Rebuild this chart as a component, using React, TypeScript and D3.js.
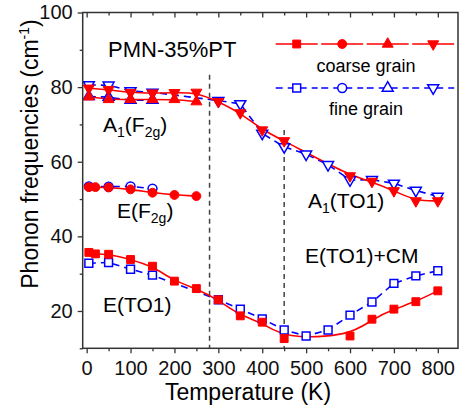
import React, { useEffect, useRef } from "react";
import * as d3 from "d3";

// E(TO1) / E(TO1)+CM  (squares)
const tSqCoarse = [5, 20, 50, 100, 150, 200, 250, 300, 350, 400, 450, 600, 650, 700, 750, 800];
const fSqCoarse = [35.7, 35.3, 35.2, 33.8, 32.0, 28.0, 26.0, 23.0, 18.7, 17.0, 12.6, 13.3, 17.8, 20.5, 22.5, 25.4];
const tSqFine = [5, 50, 100, 150, 300, 350, 400, 450, 500, 550, 600, 650, 700, 750, 800];
const fSqFine = [32.8, 33.0, 31.2, 29.6, 23.0, 20.5, 17.9, 14.9, 13.3, 14.9, 18.9, 22.4, 27.4, 29.4, 30.8];

// E(F2g)  (circles)
const tCiCoarse = [5, 20, 50, 100, 150, 200, 250];
const fCiCoarse = [53.2, 53.2, 53.1, 52.6, 51.7, 51.1, 50.8];
const tCiFine = [5, 50, 100, 150];
const fCiFine = [53.4, 53.3, 53.4, 52.8];

// A1(F2g)  (up triangles)
const tUpCoarse = [5, 50, 100, 150, 200, 250];
const fUpCoarse = [77.4, 76.7, 76.7, 76.7, 76.7, 76.1];
const tUpFine = [5, 50, 100, 150];
const fUpFine = [77.5, 77.3, 76.5, 76.5];

// A1(TO1)  (down triangles)
const tDnCoarse = [5, 50, 100, 150, 200, 250, 300, 350, 400, 450, 600, 650, 700, 750, 800];
const fDnCoarse = [79.7, 79.3, 78.5, 78.4, 78.5, 78.6, 76.1, 73.1, 68.5, 65.6, 56.2, 54.7, 52.2, 49.5, 49.5];
const tDnFine = [5, 50, 100, 150, 300, 350, 400, 450, 500, 550, 600, 650, 700, 750, 800];
const fDnFine = [80.6, 80.5, 79.0, 78.6, 76.4, 75.5, 67.6, 64.0, 62.0, 59.2, 55.1, 55.2, 54.2, 52.3, 50.7];

// dashed markers: [temperature, top frequency]
const guideT = [280, 450];
const guideTop = [83.3, 68.5];

const xMajor = [0, 100, 200, 300, 400, 500, 600, 700, 800];
const xMinor = [50, 150, 250, 350, 450, 550, 650, 750];
const yMajor = [20, 40, 60, 80, 100];
const yMinor = [10, 30, 50, 70, 90];

const RED = "#ff0000";
const BLUE = "#0000ff";
const AXIS = "#333";
const FONT = "'Liberation Sans', Arial, sans-serif";

type Shape = "square" | "circle" | "up" | "down";

export default function App() {
  const ref = useRef<SVGSVGElement>(null);

  useEffect(() => {
    const w = 463;
    const h = 409;
    const left = 82.7;
    const right = 458;
    const top = 12.5;
    const bottom = 348.3;

    const x = d3.scaleLinear().domain([-9, 846]).range([left, right]);
    const y = d3.scaleLinear().domain([10, 100]).range([bottom, top]);

    const svg = d3.select(ref.current).attr("viewBox", `0 0 ${w} ${h}`);
    svg.selectAll("*").remove();

    // symbols
    const symPath = (shape: Shape) => {
      if (shape === "square") return d3.symbol(d3.symbolSquare, 62)()!;
      if (shape === "circle") return d3.symbol(d3.symbolCircle, 62)()!;
      return d3.symbol(d3.symbolTriangle, 52)()!;
    };
    const addMarker = (
      g: d3.Selection<SVGGElement, unknown, null, undefined>,
      cx: number,
      cy: number,
      shape: Shape,
      color: string,
      filled: boolean
    ) => {
      g.append("path")
        .attr("d", symPath(shape))
        .attr(
          "transform",
          `translate(${cx},${cy})${shape === "down" ? " rotate(180)" : ""}`
        )
        .attr("fill", filled ? color : "white")
        .attr("stroke", color)
        .attr("stroke-width", filled ? 1 : 1.5);
    };

    // dashed guides
    guideT.forEach((t, i) => {
      svg
        .append("line")
        .attr("x1", x(t))
        .attr("x2", x(t))
        .attr("y1", y(guideTop[i]))
        .attr("y2", bottom)
        .attr("stroke", "#444")
        .attr("stroke-width", 1.5)
        .attr("stroke-dasharray", "5,4");
    });

    const series = [
      { t: tSqFine, f: fSqFine, shape: "square" as Shape, coarse: false },
      { t: tCiFine, f: fCiFine, shape: "circle" as Shape, coarse: false },
      { t: tUpFine, f: fUpFine, shape: "up" as Shape, coarse: false },
      { t: tDnFine, f: fDnFine, shape: "down" as Shape, coarse: false },
      { t: tSqCoarse, f: fSqCoarse, shape: "square" as Shape, coarse: true },
      { t: tCiCoarse, f: fCiCoarse, shape: "circle" as Shape, coarse: true },
      { t: tUpCoarse, f: fUpCoarse, shape: "up" as Shape, coarse: true },
      { t: tDnCoarse, f: fDnCoarse, shape: "down" as Shape, coarse: true },
    ];

    // lines first
    series.forEach((s) => {
      const pts = s.t.map((t, i) => [t, s.f[i]] as [number, number]);
      const line = d3
        .line<[number, number]>()
        .x((d) => x(d[0]))
        .y((d) => y(d[1]))
        .curve(s.coarse ? d3.curveBasis : d3.curveLinear);
      svg
        .append("path")
        .datum(pts)
        .attr("fill", "none")
        .attr("stroke", s.coarse ? RED : BLUE)
        .attr("stroke-width", 1.6)
        .attr("stroke-dasharray", s.coarse ? null : "7,5")
        .attr("d", line);
    });

    // markers
    const marks = svg.append("g");
    series.forEach((s) => {
      s.t.forEach((t, i) =>
        addMarker(marks, x(t), y(s.f[i]), s.shape, s.coarse ? RED : BLUE, s.coarse)
      );
    });

    // axes
    const fontAxis = (g: d3.Selection<SVGGElement, unknown, null, undefined>) => {
      g.select(".domain").remove();
      g.selectAll("line").attr("stroke", AXIS).attr("stroke-width", 1.3);
      g.selectAll("text")
        .attr("fill", "#111")
        .style("font-family", FONT)
        .style("font-size", "20px");
    };

    svg
      .append("g")
      .attr("transform", `translate(0,${bottom})`)
      .call(d3.axisBottom(x).tickValues(xMajor).tickSize(5).tickPadding(8))
      .call(fontAxis);
    svg
      .append("g")
      .attr("transform", `translate(0,${bottom})`)
      .call(d3.axisBottom(x).tickValues(xMinor).tickSize(3).tickFormat(() => ""))
      .call(fontAxis);
    svg
      .append("g")
      .attr("transform", `translate(0,${top})`)
      .call(d3.axisTop(x).tickValues(xMajor).tickSize(-5).tickFormat(() => ""))
      .call(fontAxis);
    svg
      .append("g")
      .attr("transform", `translate(0,${top})`)
      .call(d3.axisTop(x).tickValues(xMinor).tickSize(-3).tickFormat(() => ""))
      .call(fontAxis);
    svg
      .append("g")
      .attr("transform", `translate(${left},0)`)
      .call(d3.axisLeft(y).tickValues(yMajor).tickSize(5).tickPadding(5))
      .call(fontAxis);
    svg
      .append("g")
      .attr("transform", `translate(${left},0)`)
      .call(d3.axisLeft(y).tickValues(yMinor).tickSize(3).tickFormat(() => ""))
      .call(fontAxis);

    // frame
    svg
      .append("rect")
      .attr("x", left)
      .attr("y", top)
      .attr("width", right - left)
      .attr("height", bottom - top)
      .attr("fill", "none")
      .attr("stroke", AXIS)
      .attr("stroke-width", 1.5);

    // axis labels
    svg
      .append("text")
      .attr("x", 248)
      .attr("y", 400)
      .attr("text-anchor", "middle")
      .style("font-family", FONT)
      .style("font-size", "23px")
      .text("Temperature (K)");

    const yl = svg
      .append("text")
      .attr("transform", `translate(38,154) rotate(-90)`)
      .attr("text-anchor", "middle")
      .style("font-family", FONT)
      .style("font-size", "23px");
    yl.append("tspan").text("Phonon frequencies  (cm");
    yl.append("tspan").attr("dy", -9).style("font-size", "14px").text("-1");
    yl.append("tspan").attr("dy", 9).text(")");

    // annotations
    const note = (px: number, py: number, size = 21) =>
      svg
        .append("text")
        .attr("x", px)
        .attr("y", py)
        .style("font-family", FONT)
        .style("font-size", `${size}px`);

    note(108, 57, 22).text("PMN-35%PT");

    const a1 = note(103, 132);
    a1.append("tspan").text("A");
    a1.append("tspan").attr("dy", 5).style("font-size", "14px").text("1");
    a1.append("tspan").attr("dy", -5).text("(F");
    a1.append("tspan").attr("dy", 5).style("font-size", "14px").text("2g");
    a1.append("tspan").attr("dy", -5).text(")");

    const ef = note(117, 218);
    ef.append("tspan").text("E(F");
    ef.append("tspan").attr("dy", 5).style("font-size", "14px").text("2g");
    ef.append("tspan").attr("dy", -5).text(")");

    note(103, 312).text("E(TO1)");

    const at = note(308, 208);
    at.append("tspan").text("A");
    at.append("tspan").attr("dy", 5).style("font-size", "14px").text("1");
    at.append("tspan").attr("dy", -5).text("(TO1)");

    note(305, 263).text("E(TO1)+CM");

    // legend
    const shapes: Shape[] = ["square", "circle", "up", "down"];
    const legX0 = 296.7;
    const legStep = 45.5;
    const legend = svg.append("g");
    [
      { yy: 44, color: RED, filled: true, dash: null as string | null, label: "coarse grain", ly: 72 },
      { yy: 88, color: BLUE, filled: false, dash: "7,5", label: "fine grain", ly: 115 },
    ].forEach((row) => {
      shapes.forEach((sh, i) => {
        const cx = legX0 + i * legStep;
        legend
          .append("line")
          .attr("x1", cx - 21)
          .attr("x2", cx + 21)
          .attr("y1", row.yy)
          .attr("y2", row.yy)
          .attr("stroke", row.color)
          .attr("stroke-width", 1.6)
          .attr("stroke-dasharray", row.dash);
        addMarker(legend, cx, row.yy, sh, row.color, row.filled);
      });
      legend
        .append("text")
        .attr("x", 366)
        .attr("y", row.ly)
        .attr("text-anchor", "middle")
        .style("font-family", FONT)
        .style("font-size", "18px")
        .text(row.label);
    });
  }, []);

  return (
    <svg
      ref={ref}
      width={463}
      height={409}
      style={{ position: "absolute", left: 0, top: 0, background: "white" }}
    />
  );
}
